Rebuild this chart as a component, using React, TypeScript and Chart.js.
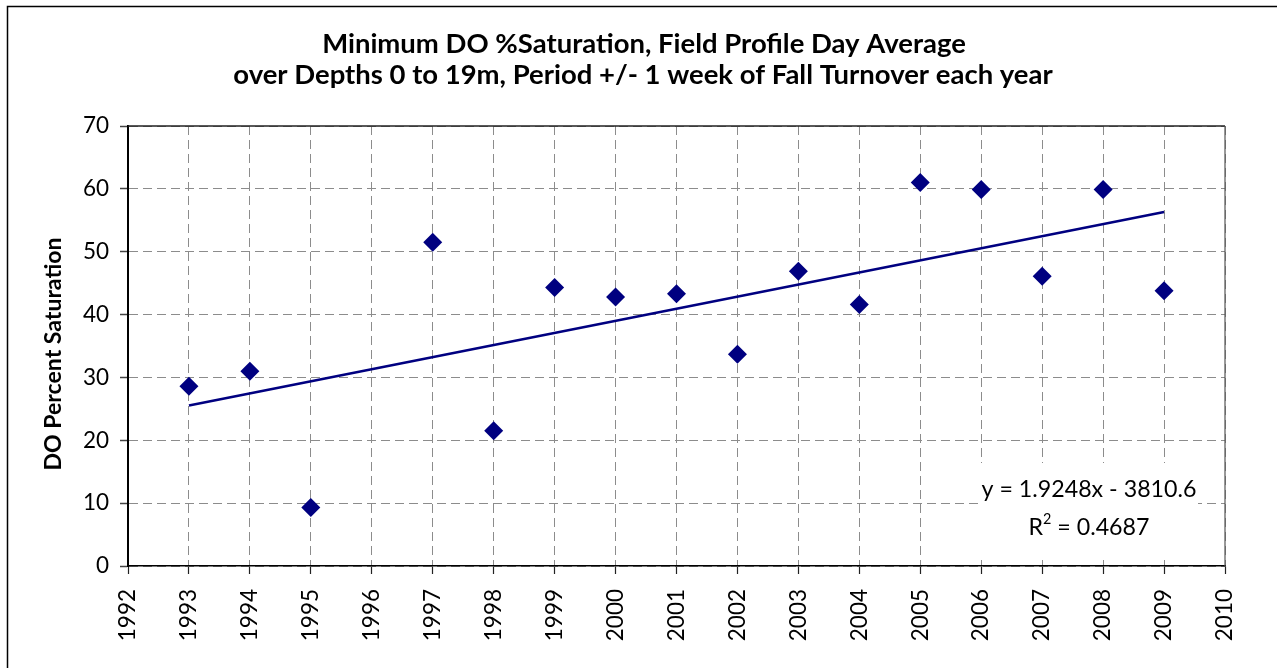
import React, { useEffect, useRef } from "react";
import { Chart, registerables } from "chart.js";

Chart.register(...registerables);

const years = [1993, 1994, 1995, 1997, 1998, 1999, 2000, 2001, 2002, 2003, 2004, 2005, 2006, 2007, 2008, 2009];
const doSaturation = [28.6, 31.0, 9.3, 51.5, 21.5, 44.3, 42.8, 43.3, 33.7, 46.9, 41.6, 61.0, 59.9, 46.1, 59.9, 43.8];
const xTickYears = [1992, 1993, 1994, 1995, 1996, 1997, 1998, 1999, 2000, 2001, 2002, 2003, 2004, 2005, 2006, 2007, 2008, 2009, 2010];
const yTicks = [0, 10, 20, 30, 40, 50, 60, 70];
const trendSlope = 1.9248;
const trendIntercept = -3810.6;
const trendRange = [1993, 2009];

const titleLines = [
  "Minimum DO %Saturation, Field Profile Day Average",
  "over Depths 0 to 19m, Period +/- 1 week of Fall Turnover each year",
];
const yAxisTitle = "DO Percent Saturation";
const eqLine = "y = 1.9248x - 3810.6";
const r2Value = "0.4687";

const FONT = "Lato, 'Open Sans', sans-serif";
const NAVY = "#000080";

function fitFont(ctx: CanvasRenderingContext2D, text: string, weight: string, target: number) {
  ctx.font = `${weight} 100px ${FONT}`;
  const w = ctx.measureText(text).width;
  return (100 * target) / w;
}

const decorPlugin = {
  id: "decor",
  afterDraw(chart: any) {
    const ctx: CanvasRenderingContext2D = chart.ctx;
    const area = chart.chartArea;
    ctx.save();
    ctx.strokeStyle = "#000";
    ctx.lineWidth = 1.5;
    ctx.beginPath();
    ctx.moveTo(7.5, 700);
    ctx.lineTo(7.5, 6.5);
    ctx.lineTo(1300, 6.5);
    ctx.stroke();

    ctx.lineWidth = 1.5;
    ctx.strokeStyle = "#222";
    ctx.beginPath();
    ctx.moveTo(area.left, area.top);
    ctx.lineTo(area.right, area.top);
    ctx.stroke();
    ctx.strokeStyle = "#555";
    ctx.lineWidth = 1.2;
    ctx.beginPath();
    ctx.moveTo(area.right, area.top);
    ctx.lineTo(area.right, area.bottom);
    ctx.stroke();

    const ts = fitFont(ctx, titleLines[0], "bold", 644);
    ctx.font = `bold ${ts}px ${FONT}`;
    ctx.fillStyle = "#000";
    ctx.textAlign = "center";
    ctx.textBaseline = "alphabetic";
    ctx.fillText(titleLines[0], 644, 53);
    ctx.fillText(titleLines[1], 643, 84);

    const ys = fitFont(ctx, yAxisTitle, "bold", 233);
    ctx.save();
    ctx.translate(61, 354);
    ctx.rotate(-Math.PI / 2);
    ctx.font = `bold ${ys}px ${FONT}`;
    ctx.textAlign = "center";
    ctx.fillText(yAxisTitle, 0, 0);
    ctx.restore();
    ctx.restore();
  },
  afterDatasetsDraw(chart: any) {
    const ctx: CanvasRenderingContext2D = chart.ctx;
    ctx.save();
    ctx.fillStyle = "#fff";
    ctx.fillRect(979, 463, 219, 94);
    const es = fitFont(ctx, eqLine, "normal", 215);
    ctx.font = `normal ${es}px ${FONT}`;
    ctx.fillStyle = "#000";
    ctx.textAlign = "center";
    ctx.textBaseline = "alphabetic";
    ctx.fillText(eqLine, 1089, 497);
    const a = "R";
    const b = " = " + r2Value;
    ctx.font = `normal ${es}px ${FONT}`;
    const wa = ctx.measureText(a).width;
    const wb = ctx.measureText(b).width;
    ctx.font = `normal ${es * 0.62}px ${FONT}`;
    const ws = ctx.measureText("2").width;
    const total = wa + ws + wb;
    let x = 1089 - total / 2;
    ctx.textAlign = "left";
    ctx.font = `normal ${es}px ${FONT}`;
    ctx.fillText(a, x, 535);
    x += wa;
    ctx.font = `normal ${es * 0.62}px ${FONT}`;
    ctx.fillText("2", x, 524);
    x += ws;
    ctx.font = `normal ${es}px ${FONT}`;
    ctx.fillText(b, x, 535);
    ctx.restore();
  },
};

export default function App() {
  const ref = useRef<HTMLCanvasElement | null>(null);
  useEffect(() => {
    if (!ref.current) return;
    const points = years.map((yr, i) => ({ x: yr, y: doSaturation[i] }));
    const trend = trendRange.map((yr) => ({ x: yr, y: trendSlope * yr + trendIntercept }));
    const chart = new Chart(ref.current, {
      type: "scatter",
      data: {
        datasets: [
          {
            label: "Min DO %Sat",
            data: points,
            pointStyle: "rectRot",
            pointRadius: 9.5,
            pointHoverRadius: 9.5,
            backgroundColor: NAVY,
            borderColor: NAVY,
            borderWidth: 0,
            showLine: false,
          },
          {
            label: "Trend",
            data: trend,
            showLine: true,
            pointRadius: 0,
            borderColor: NAVY,
            borderWidth: 2.5,
            backgroundColor: NAVY,
          },
        ],
      },
      options: {
        responsive: false,
        animation: false,
        events: [],
        layout: { padding: { top: 126, right: 52, bottom: 0, left: 0 } },
        plugins: {
          legend: { display: false },
          title: { display: false },
          tooltip: { enabled: false },
        },
        scales: {
          x: {
            type: "linear",
            min: 1992,
            max: 2010,
            afterBuildTicks: (scale: any) => {
              scale.ticks = xTickYears.map((v) => ({ value: v }));
            },
            afterFit: (scale: any) => {
              scale.height = 102;
            },
            ticks: {
              autoSkip: false,
              minRotation: 90,
              maxRotation: 90,
              padding: 15,
              color: "#000",
              font: { family: FONT, size: 22.5 },
              callback: (v: any) => String(v),
            },
            grid: {
              color: "#8c8c8c",
              lineWidth: 1,
              drawTicks: true,
              tickLength: 8,
              tickColor: "#222",
              tickWidth: 1.2,
            },
            border: { display: true, color: "#000", width: 1.5, dash: [9, 5] },
          },
          y: {
            type: "linear",
            min: 0,
            max: 70,
            afterBuildTicks: (scale: any) => {
              scale.ticks = yTicks.map((v) => ({ value: v }));
            },
            afterFit: (scale: any) => {
              scale.width = 128;
            },
            ticks: {
              padding: 11,
              color: "#000",
              font: { family: FONT, size: 22.5 },
              callback: (v: any) => String(v),
            },
            grid: {
              color: "#8c8c8c",
              lineWidth: 1,
              drawTicks: true,
              tickLength: 8,
              tickColor: "#444",
              tickWidth: 1.5,
            },
            border: { display: true, color: "#000", width: 2, dash: [9, 5] },
          },
        },
      },
      plugins: [decorPlugin],
    });
    return () => chart.destroy();
  }, []);
  return (
    <div style={{ position: "absolute", left: 0, top: 0, width: 1277, height: 668, background: "#fff" }}>
      <canvas ref={ref} width={1277} height={668} style={{ display: "block" }} />
    </div>
  );
}
